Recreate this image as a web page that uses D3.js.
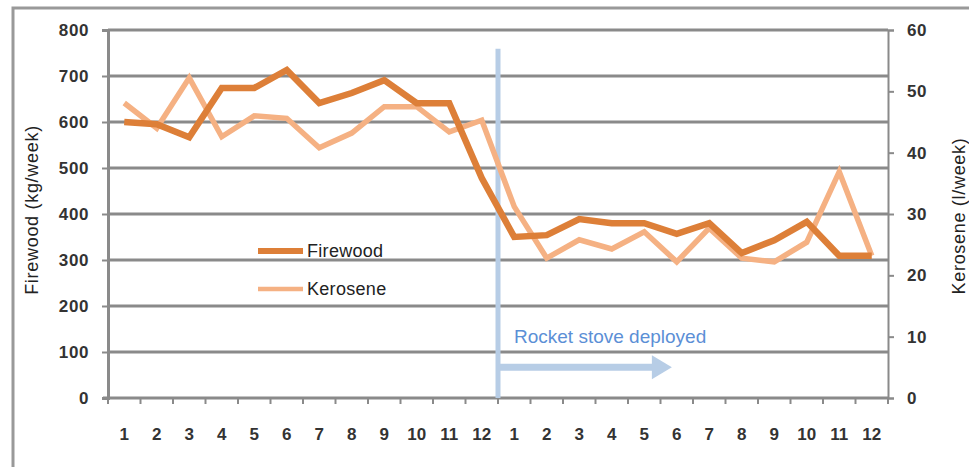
<!DOCTYPE html>
<html><head><meta charset="utf-8">
<script src="https://cdn.jsdelivr.net/npm/d3@7"></script>
<style>
body{margin:0;background:#fff;}
svg{display:block;}
text{font-family:"Liberation Sans",Arial,sans-serif;}
</style></head>
<body><svg id="c" width="969" height="467"></svg>
<script>
const monthLabels = ["1","2","3","4","5","6","7","8","9","10","11","12","1","2","3","4","5","6","7","8","9","10","11","12"];
const firewood = [600,595,567,674,674,713,641,663,691,641,641,478,350,354,389,380,380,357,380,315,343,383,309,309];
const kerosene = [48.1,44.0,52.2,42.6,46.0,45.6,40.8,43.2,47.5,47.5,43.4,45.3,31.2,22.8,25.8,24.3,27.1,22.2,27.7,22.8,22.2,25.4,36.9,23.2];
const leftTicks = [0,100,200,300,400,500,600,700,800];
const rightTicks = [0,10,20,30,40,50,60];
const seriesNames = ["Firewood","Kerosene"];
const deployIndex = 12;
const annotationText = "Rocket stove deployed";

const svg = d3.select("#c");
const L = 108, R = 888, T = 30, B = 398;
const x = d3.scaleBand().domain(d3.range(monthLabels.length)).range([L, R]).paddingInner(0).paddingOuter(0);
const yL = d3.scaleLinear().domain([0, 800]).range([B, T]);
const yR = d3.scaleLinear().domain([0, 60]).range([B, T]);
const grid = "#8a8a8a";
const tickFont = 17;

// outer frame
svg.append("rect").attr("x",13).attr("y",8).attr("width",1000).attr("height",500)
  .attr("fill","none").attr("stroke","#999").attr("stroke-width",3);

// gridlines
svg.append("g").selectAll("line").data(leftTicks.filter(d=>d>0)).join("line")
  .attr("x1",L).attr("x2",R).attr("y1",d=>yL(d)).attr("y2",d=>yL(d))
  .attr("stroke",grid).attr("stroke-width",3);

function styleTicks(g, ls){
  g.selectAll(".tick text").attr("font-size",tickFont).attr("font-weight","bold")
    .attr("fill","#333").attr("letter-spacing",ls);
}

// left axis
const gL = svg.append("g").attr("transform",`translate(${L},0)`)
  .call(d3.axisLeft(yL).tickValues(leftTicks).tickSize(6).tickPadding(13));
gL.select(".domain").attr("stroke",grid).attr("stroke-width",3);
gL.selectAll(".tick line").attr("stroke",grid).attr("stroke-width",2);
styleTicks(gL, "0.6px");

// right axis
const gR = svg.append("g").attr("transform",`translate(${R},0)`)
  .call(d3.axisRight(yR).tickValues(rightTicks).tickSize(6).tickPadding(13));
gR.select(".domain").attr("stroke",grid).attr("stroke-width",2);
gR.selectAll(".tick line").attr("stroke",grid).attr("stroke-width",2);
styleTicks(gR, "0.6px");

// bottom axis: baseline, boundary ticks, labels
svg.append("line").attr("x1",L-5).attr("x2",R).attr("y1",B).attr("y2",B).attr("stroke",grid).attr("stroke-width",3);
svg.append("g").selectAll("line").data(d3.range(monthLabels.length+1)).join("line")
  .attr("x1",i=>i<monthLabels.length?x(i):R).attr("x2",i=>i<monthLabels.length?x(i):R)
  .attr("y1",B).attr("y2",B+6).attr("stroke",grid).attr("stroke-width",2);
const gB = svg.append("g").attr("transform",`translate(0,${B})`)
  .call(d3.axisBottom(x).tickFormat(i=>monthLabels[i]).tickSize(0).tickPadding(30));
gB.select(".domain").remove();
styleTicks(gB, "0px");

// axis titles
svg.append("text").attr("transform",`translate(38,${(T+B)/2-4}) rotate(-90)`)
  .attr("text-anchor","middle").attr("font-size",18).attr("letter-spacing","0.7px")
  .attr("fill","#222").text("Firewood (kg/week)");
svg.append("text").attr("transform",`translate(965,${(T+B)/2+2}) rotate(-90)`)
  .attr("text-anchor","middle").attr("font-size",18).attr("letter-spacing","0.7px")
  .attr("fill","#222").text("Kerosene (l/week)");

// deploy marker
const dx = x(deployIndex);
const blue = "#b7cde6";
svg.append("line").attr("x1",dx).attr("x2",dx).attr("y1",yL(759)).attr("y2",B)
  .attr("stroke",blue).attr("stroke-width",5);
const ay = yL(67);
const ax2 = x(17) + x.bandwidth()*0.35;
svg.append("line").attr("x1",dx).attr("x2",ax2-18).attr("y1",ay).attr("y2",ay)
  .attr("stroke",blue).attr("stroke-width",7);
svg.append("path").attr("d",`M${ax2-20},${ay-12}L${ax2},${ay}L${ax2-20},${ay+12}Z`).attr("fill",blue);
svg.append("text").attr("x",dx+16).attr("y",yL(120)).attr("font-size",19).attr("fill","#5b8fd6")
  .text(annotationText);

// lines
const cx = i => x(i) + x.bandwidth()/2;
svg.append("path").datum(kerosene)
  .attr("d", d3.line().x((d,i)=>cx(i)).y(d=>yR(d)))
  .attr("fill","none").attr("stroke","#f5b183").attr("stroke-width",5.5).attr("stroke-linejoin","miter");
svg.append("path").datum(firewood)
  .attr("d", d3.line().x((d,i)=>cx(i)).y(d=>yL(d)))
  .attr("fill","none").attr("stroke","#dd7f38").attr("stroke-width",6.5).attr("stroke-linejoin","miter");

// legend
const legend = [{name:seriesNames[0], color:"#dd7f38", w:6, y:251},{name:seriesNames[1], color:"#f5b183", w:4.5, y:289}];
const lg = svg.append("g").selectAll("g").data(legend).join("g");
lg.append("line").attr("x1",258).attr("x2",303).attr("y1",d=>d.y).attr("y2",d=>d.y)
  .attr("stroke",d=>d.color).attr("stroke-width",d=>d.w);
lg.append("text").attr("x",307).attr("y",d=>d.y).attr("dy","0.35em").attr("font-size",18)
  .attr("letter-spacing","0.3px").attr("fill","#222").text(d=>d.name);
</script></body></html>
